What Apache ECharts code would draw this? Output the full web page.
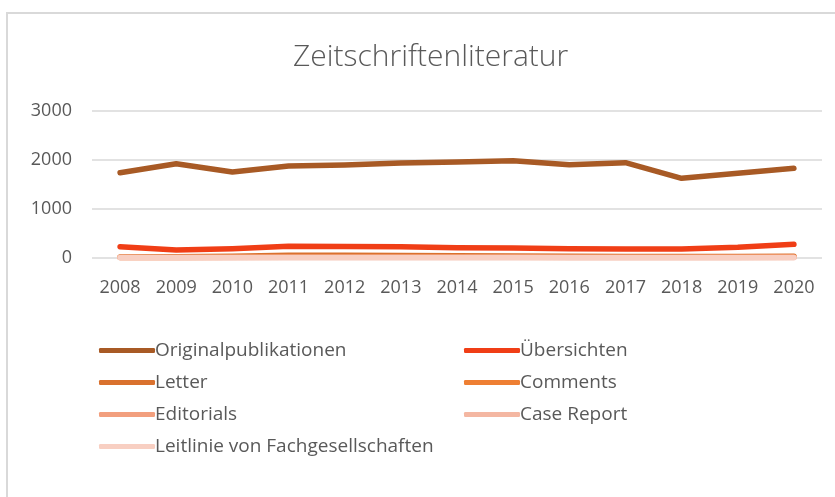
<!DOCTYPE html>
<html>
<head>
<meta charset="utf-8">
<script src="https://cdn.jsdelivr.net/npm/echarts@6/dist/echarts.min.js"></script>
<style>
  html, body { margin: 0; padding: 0; background: #fff; overflow: hidden; }
  #frame { position: absolute; left: 6px; top: 12px; width: 900px; height: 600px; border: 2px solid #d9d9d9; }
  #main { position: absolute; left: 4px; top: 5px; width: 828px; height: 489px; }
</style>
</head>
<body>
<div id="frame"></div>
<div id="main"></div>
<script>
// Jahre und Werte
var years = ['2008','2009','2010','2011','2012','2013','2014','2015','2016','2017','2018','2019','2020'];
var original = [1740, 1925, 1755, 1878, 1900, 1939, 1959, 1986, 1905, 1945, 1626, 1728, 1830];
var uebersichten = [230, 163, 190, 238, 235, 230, 211, 204, 190, 184, 184, 218, 279];
var letter = [20, 25, 35, 55, 55, 50, 45, 40, 35, 30, 30, 30, 35];
var comments = [10, 12, 15, 20, 20, 20, 18, 18, 16, 15, 15, 15, 18];
var editorials = [10, 10, 12, 15, 15, 15, 14, 14, 12, 12, 12, 12, 14];
var caseReport = [8, 8, 10, 10, 10, 10, 10, 10, 9, 9, 9, 9, 10];
var leitlinie = [3, 3, 3, 4, 4, 4, 4, 4, 4, 4, 4, 4, 4];
var yTicks = [0, 1000, 2000, 3000];

var names = ['Originalpublikationen', 'Übersichten', 'Letter', 'Comments', 'Editorials', 'Case Report', 'Leitlinie von Fachgesellschaften'];
var colors = ['#A85A25', '#F03E16', '#D9712E', '#EE7F33', '#F29F7E', '#F4B7A2', '#F8CFC2'];
var values = [original, uebersichten, letter, comments, editorials, caseReport, leitlinie];

var txt = '#595959';
var fam = '"Open Sans", "Noto Sans", sans-serif';

var series = [];
for (var i = 0; i < names.length; i++) {
    series.push({
        name: names[i],
        type: 'line',
        data: values[i],
        symbol: 'none',
        smooth: false,
        lineStyle: { width: 5.5, color: colors[i], cap: 'round', join: 'round' },
        itemStyle: { color: colors[i] }
    });
}

var legendCommon = {
    orient: 'vertical',
    icon: 'roundRect',
    itemWidth: 56,
    itemHeight: 5,
    itemGap: 13,
    textStyle: { color: txt, fontSize: 19, fontFamily: fam, padding: [0, 0, 0, -5] }
};

var myChart = echarts.init(document.getElementById('main'));
var option = {
    color: colors,
    title: {
        text: 'Zeitschriftenliteratur',
        left: 284,
        top: 32,
        textStyle: { color: txt, fontSize: 30, fontWeight: 'lighter', fontFamily: fam }
    },
    grid: { left: 88, right: 10, top: 106, height: 147, containLabel: false },
    legend: [
        Object.assign({ left: 90, top: 331, data: [names[0], names[2], names[4], names[6]] }, legendCommon),
        Object.assign({ left: 455, top: 331, data: [names[1], names[3], names[5]] }, legendCommon)
    ],
    xAxis: {
        type: 'category',
        data: years,
        boundaryGap: true,
        axisLine: { show: false },
        axisTick: { show: false },
        axisLabel: { color: txt, fontSize: 18, fontFamily: fam, margin: 21 }
    },
    yAxis: {
        type: 'value',
        min: yTicks[0],
        max: yTicks[yTicks.length - 1],
        interval: 1000,
        axisLine: { show: false },
        axisTick: { show: false },
        axisLabel: { color: txt, fontSize: 18, fontFamily: fam, margin: 20, formatter: function (v) { return String(v); } },
        splitLine: { lineStyle: { color: '#d9d9d9', width: 1.5 } }
    },
    series: series
};
myChart.setOption(option);
</script>
</body>
</html>
